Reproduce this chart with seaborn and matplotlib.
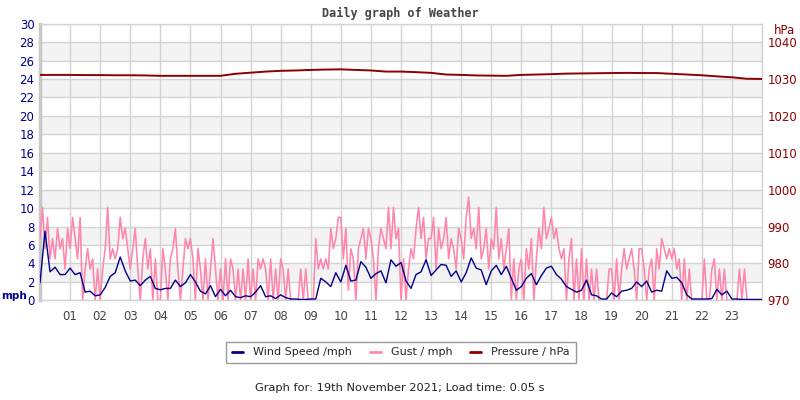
import numpy as np
import pandas as pd
import matplotlib
matplotlib.use("Agg")
import matplotlib.pyplot as plt
import seaborn as sns

# ---------------- data ----------------
hour_labels = ["%02d" % h for h in range(1, 24)]

# wind speed, 10-minute samples (mph)
wind_speed = [
    1.9, 7.5, 3.1, 3.6, 2.8, 2.8,
    3.5, 2.8, 3.0, 0.9, 1.0, 0.5,
    0.6, 1.4, 2.6, 3.0, 4.7, 3.2,
    2.1, 2.2, 1.6, 2.2, 2.6, 1.3,
    1.15, 1.3, 1.3, 2.2, 1.5, 1.9,
    2.8, 2.0, 1.0, 0.7, 1.6, 0.4,
    1.2, 0.5, 1.1, 0.4, 0.3, 0.5,
    0.4, 0.9, 1.6, 0.4, 0.5, 0.2,
    0.6, 0.3, 0.15, 0.15, 0.1, 0.1,
    0.15, 0.15, 2.4, 2.0, 1.5, 3.0,
    2.0, 3.8, 2.1, 2.2, 4.2, 3.6,
    2.4, 2.9, 3.2, 1.9, 4.4, 3.7,
    4.1, 2.1, 1.3, 2.8, 3.1, 4.4,
    2.7, 3.3, 3.9, 3.8, 2.6, 3.2,
    2.0, 3.0, 4.6, 3.5, 3.3, 1.7,
    3.2, 3.8, 2.8, 3.7, 2.4, 1.1,
    1.5, 2.4, 2.9, 1.7, 2.7, 3.5,
    3.7, 2.8, 2.3, 1.5, 1.2, 0.9,
    1.1, 2.2, 0.6, 0.5, 0.15, 0.15,
    0.8, 0.4, 1.0, 1.1, 1.3, 2.0,
    1.5, 2.1, 0.9, 1.1, 1.0, 3.2,
    2.4, 2.5, 1.9, 0.6, 0.15, 0.15,
    0.15, 0.15, 0.2, 1.2, 0.6, 1.0,
    0.15, 0.15, 0.1, 0.1, 0.1, 0.1,
    0.1,
]

# gust, 5-minute samples (mph)
gust = [
    6.7, 10.1, 5.6, 9.0, 4.5, 6.7, 4.5, 7.8, 5.6, 6.7, 3.4, 7.8,
    5.6, 9.0, 6.7, 4.5, 9.0, 0, 3.4, 5.6, 3.4, 4.5, 0, 3.4,
    0, 3.4, 5.6, 10.1, 4.5, 5.6, 4.5, 5.6, 9.0, 6.7, 7.8, 5.6,
    3.4, 5.6, 7.8, 3.4, 0, 4.5, 6.7, 3.4, 5.6, 0, 4.5, 0,
    0, 5.6, 3.4, 0, 4.5, 5.6, 7.8, 3.4, 0, 3.4, 6.7, 5.6,
    6.7, 4.5, 0, 5.6, 3.4, 0, 4.5, 0, 3.4, 6.7, 3.4, 0,
    3.4, 0, 4.5, 0, 4.5, 3.4, 0, 3.4, 0, 3.4, 0, 4.5,
    0, 3.4, 0, 4.5, 3.4, 4.5, 3.4, 0, 4.5, 0, 3.4, 0,
    4.5, 3.4, 0, 3.4, 0, 0, 0, 0, 3.4, 0, 3.4, 0,
    0, 0, 6.7, 3.4, 4.5, 3.4, 4.5, 3.4, 7.8, 5.6, 6.7, 9.0,
    9.0, 4.5, 7.8, 1.1, 5.6, 4.5, 0, 5.6, 6.7, 7.8, 4.5, 7.8,
    6.7, 4.5, 0, 5.6, 7.8, 6.7, 5.6, 10.1, 5.6, 10.1, 6.7, 7.8,
    0, 4.5, 0, 3.4, 5.6, 4.5, 7.8, 10.1, 6.7, 9.0, 4.5, 6.7,
    6.7, 9.0, 3.4, 7.8, 5.6, 6.7, 9.0, 4.5, 6.7, 5.6, 3.4, 7.8,
    6.7, 4.5, 9.0, 11.2, 6.7, 7.8, 5.6, 10.1, 4.5, 5.6, 7.8, 3.4,
    6.7, 5.6, 10.1, 4.5, 6.7, 3.4, 5.6, 7.8, 0, 4.5, 0, 3.4,
    4.5, 0, 5.6, 3.4, 6.7, 0, 4.5, 7.8, 5.6, 10.1, 6.7, 7.8,
    9.0, 6.7, 7.8, 5.6, 4.5, 5.6, 0, 4.5, 6.7, 0, 4.5, 0,
    5.6, 0, 4.5, 0, 3.4, 0, 3.4, 0, 0, 0, 0, 3.4,
    3.4, 0, 4.5, 0, 3.4, 5.6, 3.4, 4.5, 5.6, 3.4, 0, 5.6,
    5.6, 3.4, 0, 3.4, 4.5, 0, 5.6, 3.4, 6.7, 5.6, 4.5, 5.6,
    4.5, 5.6, 3.4, 4.5, 0, 4.5, 0, 3.4, 0, 0, 0, 0,
    0, 4.5, 0, 0, 3.4, 4.5, 0, 3.4, 0, 3.4, 0, 0,
    0, 0, 0, 3.4, 0, 3.4, 0, 0, 0, 0, 0, 0,
    0,
]

# pressure, 30-minute samples (hPa)
pressure = [
    1031.1, 1031.1, 1031.1, 1031.05, 1031.05, 1031.0, 1031.0, 1030.95,
    1030.85, 1030.85, 1030.85, 1030.85, 1030.85, 1031.4, 1031.7, 1032.0,
    1032.2, 1032.3, 1032.45, 1032.55, 1032.6, 1032.45, 1032.3, 1032.0,
    1032.0, 1031.85, 1031.65, 1031.2, 1031.1, 1030.95, 1030.9, 1030.85,
    1031.1, 1031.2, 1031.3, 1031.45, 1031.5, 1031.55, 1031.6, 1031.65,
    1031.6, 1031.6, 1031.4, 1031.2, 1031.0, 1030.7, 1030.45, 1030.05,
    1030.0,
]

wind_df = pd.DataFrame({"hour": np.linspace(0, 24, len(wind_speed)), "v": wind_speed})
gust_df = pd.DataFrame({"hour": np.linspace(0, 24, len(gust)), "v": gust})
pres_df = pd.DataFrame({"hour": np.linspace(0, 24, len(pressure)), "v": pressure})

# ---------------- style ----------------
sns.set_style("white")
plt.rcParams["font.family"] = ["DejaVu Sans"]

NAVY = "#00008b"
PINK = "#ff86aa"
DRED = "#8b0000"
GRID = "#d3d3d3"

fig = plt.figure(figsize=(8, 4), dpi=100)
ax = fig.add_axes([0.05, 0.249, 0.9025, 0.692])

# alternating background bands
for lo in range(2, 30, 4):
    ax.axhspan(lo, lo + 2, color="#f3f3f3", zorder=0, lw=0)

sns.lineplot(data=gust_df, x="hour", y="v", ax=ax, color=PINK, lw=1.15,
             label="Gust / mph", zorder=3, legend=False)
sns.lineplot(data=wind_df, x="hour", y="v", ax=ax, color=NAVY, lw=1.0,
             label="Wind Speed /mph", zorder=4, legend=False)

ax.set_xlim(0, 24)
ax.set_ylim(0, 30)
ax.set_yticks(range(0, 31, 2))
ax.set_xticks(range(1, 24))
ax.set_xticklabels(hour_labels)
ax.set_xticks(range(0, 25), minor=True)
ax.grid(True, which="both", axis="x", color=GRID, lw=1, zorder=1)
ax.grid(True, which="major", axis="y", color=GRID, lw=1, zorder=1)
ax.set_axisbelow(True)
ax.tick_params(axis="y", colors=NAVY, labelsize=8.5, length=0, pad=4)
ax.tick_params(axis="x", colors="#444444", labelsize=8.5, length=0, pad=7, which="both")
ax.set_xlabel("")
ax.set_ylabel("")
for side in ["top", "right", "bottom"]:
    ax.spines[side].set_color(GRID)
    ax.spines[side].set_linewidth(1)
ax.spines["left"].set_color("#c8c8c8")
ax.spines["left"].set_linewidth(2.5)

ax2 = ax.twinx()
sns.lineplot(data=pres_df, x="hour", y="v", ax=ax2, color=DRED, lw=1.4,
             label="Pressure / hPa", legend=False)
ax2.set_ylim(970, 1045)
ax2.set_yticks(range(970, 1041, 10))
ax2.tick_params(axis="y", colors=DRED, labelsize=8.5, length=0, pad=4)
ax2.set_ylabel("")
ax2.set_xlabel("")
for side in ["top", "left", "bottom", "right"]:
    ax2.spines[side].set_visible(False)
ax2.grid(False)

fig.text(0.5, 0.967, "Daily graph of Weather", ha="center", va="center",
         family="DejaVu Sans Mono", weight="bold", fontsize=8.5, color="#444444")
fig.text(0.002, 0.26, "mph", ha="left", va="center", weight="bold",
         fontsize=7.5, color=NAVY)
fig.text(0.994, 0.925, "hPa", ha="right", va="center", fontsize=8.5, color=DRED)

h1, l1 = ax.get_legend_handles_labels()
h2, l2 = ax2.get_legend_handles_labels()
order = {"Wind Speed /mph": 0, "Gust / mph": 1, "Pressure / hPa": 2}
pairs = sorted(zip(h1 + h2, l1 + l2), key=lambda p: order[p[1]])
leg = fig.legend([p[0] for p in pairs], [p[1] for p in pairs], loc="center",
                 bbox_to_anchor=(0.5013, 0.119), ncol=3, fontsize=8, frameon=True,
                 fancybox=False, edgecolor="#808080", handlelength=1.0,
                 columnspacing=1.6, handletextpad=0.9, borderpad=0.5)
for line in leg.get_lines():
    line.set_linewidth(2)
leg.get_frame().set_linewidth(1)

fig.text(0.5, 0.03, "Graph for: 19th November 2021; Load time: 0.05 s",
         ha="center", va="center", fontsize=8.2, color="#222222")

fig.savefig("out.png", dpi=100)
